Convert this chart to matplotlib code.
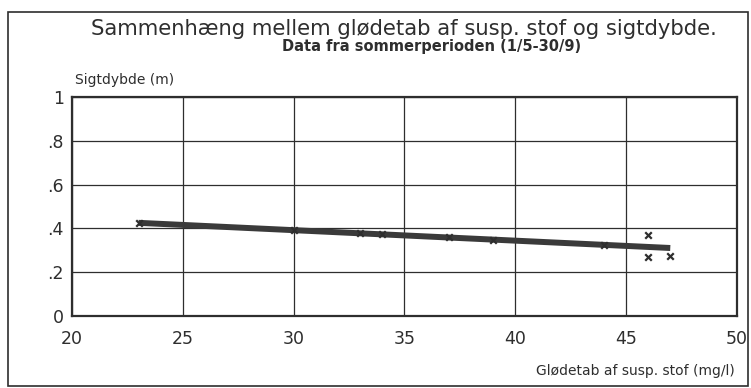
import numpy as np
import matplotlib
matplotlib.use("Agg")
import matplotlib.pyplot as plt
from matplotlib.patches import Rectangle

# Data
glodetab = [23, 30, 33, 34, 37, 39, 44, 46, 46, 47]          # mg/l
sigtdybde = [0.425, 0.39, 0.377, 0.372, 0.358, 0.348, 0.325, 0.37, 0.27, 0.275]  # m

# regression line end points as drawn
fit_x = [23, 47]
fit_y = [0.425, 0.31]

x_ticks = [20, 25, 30, 35, 40, 45, 50]
y_ticks = [0, 0.2, 0.4, 0.6, 0.8, 1.0]
y_labels = ["0", ".2", ".4", ".6", ".8", "1"]

title = "Sammenhæng mellem glødetab af susp. stof og sigtdybde."
subtitle = "Data fra sommerperioden (1/5-30/9)"

plt.rcParams['font.family'] = ['DejaVu Sans']

fig = plt.figure(figsize=(7.51, 3.88), dpi=100)
ax = fig.add_axes([0.096, 0.186, 0.885, 0.564])

ink = "#2e2e2e"

ax.plot(fit_x, fit_y, color="#3a3a3a", linewidth=4.3, solid_capstyle="butt", zorder=3)
ax.scatter(glodetab, sigtdybde, marker="x", color=ink, s=22, linewidths=1.6, zorder=4)

ax.set_xlim(20, 50)
ax.set_ylim(0, 1)
ax.set_xticks(x_ticks)
ax.set_yticks(y_ticks)
ax.set_yticklabels(y_labels)
ax.tick_params(length=0, labelsize=12.5, colors=ink, pad=6)
ax.tick_params(axis="x", pad=10)
ax.grid(True, color=ink, linewidth=0.9)
ax.set_axisbelow(True)
for sp in ax.spines.values():
    sp.set_linewidth(1.6)
    sp.set_color(ink)

fig.text(0.538, 0.925, title, ha="center", va="center", fontsize=15.2, color=ink)
fig.text(0.575, 0.88, subtitle, ha="center", va="center", fontsize=10.5,
         fontweight="bold", color=ink)
fig.text(0.1, 0.795, "Sigtdybde (m)", ha="left", va="center", fontsize=10, color=ink)
fig.text(0.978, 0.045, "Glødetab af susp. stof (mg/l)", ha="right", va="center",
         fontsize=10, color=ink)

# outer frame around the whole chart
fig.patches.append(Rectangle((0.011, 0.005), 0.985, 0.965, transform=fig.transFigure,
                             fill=False, edgecolor=ink, linewidth=1.2))

fig.savefig("out.png", dpi=100)
